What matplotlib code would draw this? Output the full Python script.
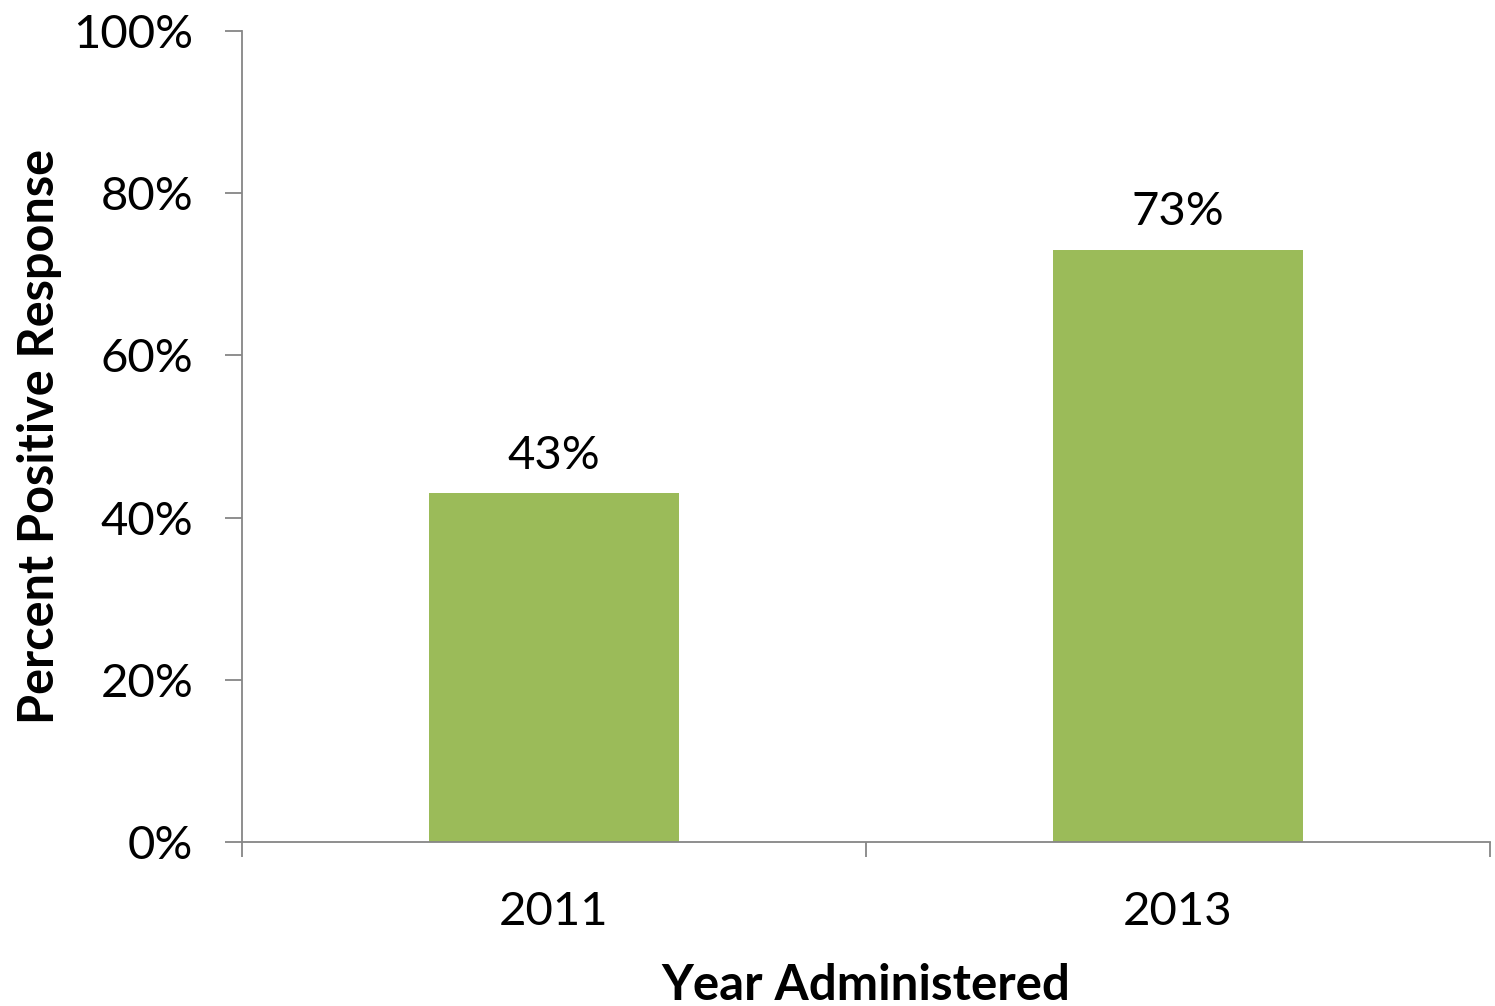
import matplotlib
matplotlib.use("Agg")
import matplotlib.pyplot as plt
from matplotlib.ticker import FixedLocator, PercentFormatter

years = ["2011", "2013"]
positive = [43, 73]
yticks = [0, 20, 40, 60, 80, 100]

plt.rcParams['font.family'] = ['Lato', 'DejaVu Sans']

bar_color = "#9BBB59"
axis_color = "#868686"

fig = plt.figure(figsize=(14.95, 10.06), dpi=100)
ax = fig.add_axes([242/1495, 1 - 842/1006, (1490 - 242)/1495, (842 - 31)/1006])

xpos = list(range(len(years)))
bars = ax.bar(xpos, positive, width=0.4, color=bar_color, zorder=2)

# value labels on top of each bar
for rect, val in zip(bars, positive):
    ax.annotate("%d%%" % val, (rect.get_x() + rect.get_width()/2, val),
                xytext=(0, 12), textcoords="offset points",
                ha="center", va="bottom", fontsize=34)

ax.set_xlim(-0.5, len(years) - 0.5)
ax.set_ylim(0, 100)

# category dividers as major ticks, year labels on minor ticks
ax.xaxis.set_major_locator(FixedLocator([i - 0.5 for i in range(len(years) + 1)]))
ax.xaxis.set_major_formatter(plt.NullFormatter())
ax.xaxis.set_minor_locator(FixedLocator(xpos))
ax.set_xticklabels(years, minor=True)
ax.tick_params(axis="x", which="major", direction="out", length=11, width=1.3, color=axis_color)
ax.tick_params(axis="x", which="minor", length=0, pad=35, labelsize=34)

ax.set_yticks(yticks)
ax.yaxis.set_major_formatter(PercentFormatter(decimals=0))
ax.tick_params(axis="y", direction="out", length=12, width=1.3, color=axis_color,
               pad=23, labelsize=34)

for side in ["top", "right"]:
    ax.spines[side].set_visible(False)
for side in ["left", "bottom"]:
    ax.spines[side].set_color(axis_color)
    ax.spines[side].set_linewidth(1.3)

ax.set_xlabel("Year Administered", fontsize=35.5, fontweight="bold", labelpad=22)
ax.set_ylabel("Percent Positive Response", fontsize=35, fontweight="bold", labelpad=8)

fig.savefig("out.png", dpi=100)
